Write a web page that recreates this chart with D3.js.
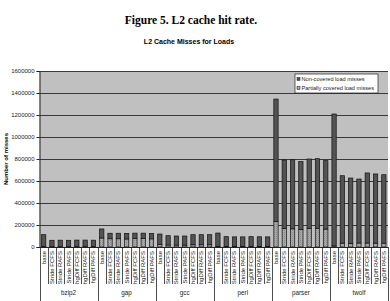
<!DOCTYPE html>
<html>
<head>
<meta charset="utf-8">
<script src="https://cdn.jsdelivr.net/npm/d3@7"></script>
<style>
  body { margin: 0; background: #fff; }
  svg { display: block; }
</style>
</head>
<body>
<svg id="chart" width="390" height="301"></svg>
<script>
// benchmarks and prefetch configs
var benchmarks = ["bzip2", "gap", "gcc", "perl", "parser", "twolf"];
var configs = ["base", "Stride FCFS", "Stride RAFS", "Stride PAFS", "hgDiff FCFS", "hgDiff RAFS", "hgDiff PAFS"];

// partially covered load misses (bottom of stack)
var partial = [
  [4000, 3000, 3000, 3000, 3000, 3000, 3000],
  [82000, 75000, 75000, 73000, 76000, 76000, 74000],
  [22000, 18000, 17000, 17000, 20000, 20000, 20000],
  [6000, 5000, 5000, 5000, 5000, 5000, 5000],
  [233000, 167000, 165000, 158000, 170000, 170000, 163000],
  [10000, 35000, 32000, 36000, 36000, 35000, 35000]
];
// non-covered load misses (top of stack)
var noncovered = [
  [108000, 58000, 59000, 58000, 60000, 60000, 59000],
  [82000, 50000, 50000, 51000, 50000, 50000, 50000],
  [96000, 85000, 83000, 83000, 92000, 92000, 92000],
  [121000, 89000, 87000, 87000, 89000, 88000, 87000],
  [1112000, 624000, 628000, 619000, 630000, 633000, 622000],
  [1199000, 613000, 595000, 582000, 637000, 629000, 622000]
];
var yTicks = [0, 200000, 400000, 600000, 800000, 1000000, 1200000, 1400000, 1600000];
var seriesNames = ["Non-covered load misses", "Partially covered load misses"];

var plot = { left: 39.5, right: 388, top: 71, bottom: 247 };
var svg = d3.select("#chart");

// flatten into rows
var rows = [];
benchmarks.forEach(function(b, i) {
  configs.forEach(function(c, j) {
    rows.push({ key: b + "|" + c, bench: b, config: c, partial: partial[i][j], noncovered: noncovered[i][j] });
  });
});

var x = d3.scaleBand()
  .domain(rows.map(function(d) { return d.key; }))
  .range([plot.left, plot.right])
  .paddingInner(0.48)
  .paddingOuter(0.24);
var xb = d3.scaleBand()
  .domain(rows.map(function(d) { return d.key; }))
  .range([plot.left, plot.right]);
var y = d3.scaleLinear()
  .domain([0, 1600000])
  .range([plot.bottom, plot.top]);

// titles
svg.append("text")
  .attr("x", 191).attr("y", 24)
  .attr("text-anchor", "middle")
  .attr("font-family", "Liberation Serif, Times New Roman, serif")
  .attr("font-weight", "bold")
  .attr("font-size", 11.5)
  .text("Figure 5. L2 cache hit rate.");
svg.append("text")
  .attr("x", 189).attr("y", 44)
  .attr("text-anchor", "middle")
  .attr("font-family", "Liberation Sans, Arial, sans-serif")
  .attr("font-weight", "bold")
  .attr("font-size", 7)
  .text("L2 Cache Misses for Loads");

// plot background
svg.append("rect")
  .attr("x", plot.left).attr("y", plot.top)
  .attr("width", plot.right - plot.left).attr("height", plot.bottom - plot.top)
  .attr("fill", "#c0c0c0");

// gridlines
svg.append("g")
  .selectAll("line")
  .data(yTicks.slice(1))
  .enter()
  .append("line")
  .attr("x1", plot.left).attr("x2", plot.right)
  .attr("y1", function(d) { return Math.round(y(d)) + 0.5; })
  .attr("y2", function(d) { return Math.round(y(d)) + 0.5; })
  .attr("stroke", "#3a3a3a")
  .attr("stroke-width", 1);

// y axis
var yAxis = d3.axisLeft(y).tickValues(yTicks).tickSize(3).tickPadding(2).tickFormat(d3.format("d"));
svg.append("g")
  .attr("transform", "translate(" + plot.left + ",0)")
  .call(yAxis)
  .call(function(g) {
    g.selectAll("text").attr("font-family", "Liberation Sans, Arial, sans-serif").attr("font-size", 6).attr("fill", "#222");
    g.selectAll("line").attr("stroke", "#222");
    g.select(".domain").attr("stroke", "#222");
  });

svg.append("text")
  .attr("transform", "translate(8," + ((plot.top + plot.bottom) / 2) + ") rotate(-90)")
  .attr("text-anchor", "middle")
  .attr("font-family", "Liberation Sans, Arial, sans-serif")
  .attr("font-weight", "bold")
  .attr("font-size", 6)
  .text("Number of misses");

// hatch pattern for partially covered
var defs = svg.append("defs");
var pat = defs.append("pattern")
  .attr("id", "hatch")
  .attr("patternUnits", "userSpaceOnUse")
  .attr("width", 2).attr("height", 2);
pat.append("rect").attr("width", 2).attr("height", 2).attr("fill", "#a6a6a6");
pat.append("rect").attr("width", 1).attr("height", 1).attr("fill", "#8c8c8c");

// stacked bars
var stack = d3.stack().keys(["partial", "noncovered"]);
var stacked = stack(rows);
var fills = { partial: "url(#hatch)", noncovered: "#535353" };

svg.append("g")
  .selectAll("g")
  .data(stacked)
  .enter()
  .append("g")
  .attr("fill", function(s) { return fills[s.key]; })
  .selectAll("rect")
  .data(function(s) { return s; })
  .enter()
  .append("rect")
  .attr("x", function(d) { return x(d.data.key); })
  .attr("width", x.bandwidth())
  .attr("y", function(d) { return y(d[1]); })
  .attr("height", function(d) { return y(d[0]) - y(d[1]); })
  .attr("stroke", "#111")
  .attr("stroke-width", 0.7);

// x axis line
svg.append("line")
  .attr("x1", plot.left).attr("x2", plot.right)
  .attr("y1", plot.bottom + 0.5).attr("y2", plot.bottom + 0.5)
  .attr("stroke", "#222");

// category tick lines
var bounds = rows.map(function(d) { return xb(d.key); }).concat([plot.right]);
svg.append("g")
  .selectAll("line")
  .data(bounds)
  .enter()
  .append("line")
  .attr("x1", function(d) { return Math.round(d) + 0.5; })
  .attr("x2", function(d) { return Math.round(d) + 0.5; })
  .attr("y1", plot.bottom)
  .attr("y2", function(d, i) { return i % configs.length === 0 ? 301 : 284; })
  .attr("stroke", "#222")
  .attr("stroke-width", 0.8);

// config labels
svg.append("g")
  .selectAll("text")
  .data(rows)
  .enter()
  .append("text")
  .attr("transform", function(d) {
    return "translate(" + (xb(d.key) + xb.bandwidth() / 2 + 2) + ",251) rotate(-90)";
  })
  .attr("text-anchor", "end")
  .attr("font-family", "Liberation Sans, Arial, sans-serif")
  .attr("font-size", 6)
  .attr("fill", "#222")
  .text(function(d) { return d.config; });

// benchmark labels
svg.append("g")
  .selectAll("text")
  .data(benchmarks)
  .enter()
  .append("text")
  .attr("x", function(b) {
    return (xb(b + "|" + configs[0]) + xb(b + "|" + configs[configs.length - 1]) + xb.bandwidth()) / 2;
  })
  .attr("y", 295)
  .attr("text-anchor", "middle")
  .attr("font-family", "Liberation Sans, Arial, sans-serif")
  .attr("font-size", 6.3)
  .attr("fill", "#222")
  .text(function(b) { return b; });

// legend
var legend = svg.append("g").attr("transform", "translate(295,74)");
legend.append("rect")
  .attr("width", 83).attr("height", 19)
  .attr("fill", "#fff").attr("stroke", "#222").attr("stroke-width", 0.7);
var legendFills = ["#535353", "url(#hatch)"];
var items = legend.selectAll("g.item")
  .data(seriesNames)
  .enter()
  .append("g")
  .attr("class", "item")
  .attr("transform", function(d, i) { return "translate(2," + (3 + i * 9) + ")"; });
items.append("rect")
  .attr("width", 3).attr("height", 3).attr("y", 0.5)
  .attr("fill", function(d, i) { return legendFills[i]; })
  .attr("stroke", "#222").attr("stroke-width", 0.5);
items.append("text")
  .attr("x", 4.5).attr("y", 3.8)
  .attr("font-family", "Liberation Sans, Arial, sans-serif")
  .attr("font-size", 5.6)
  .attr("fill", "#222")
  .text(function(d) { return d; });
</script>
</body>
</html>
